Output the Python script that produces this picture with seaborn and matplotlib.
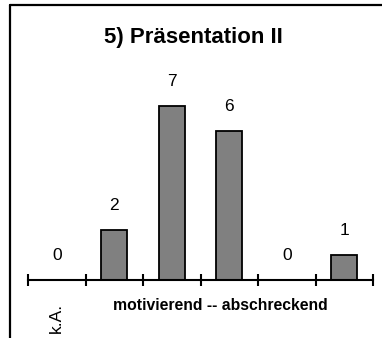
import matplotlib
matplotlib.use("Agg")
import matplotlib.pyplot as plt
from matplotlib.lines import Line2D
import seaborn as sns
import pandas as pd

# Antwortkategorien und Häufigkeiten
categories = ["k.A.", "1", "2", "3", "4", "5"]
counts = [0, 2, 7, 6, 0, 1]
title = "5) Präsentation II"
scale_label = "motivierend -- abschreckend"

sns.set_style("white")
plt.rcParams["font.family"] = ["Liberation Sans", "DejaVu Sans"]

df = pd.DataFrame({"cat": categories, "n": counts})

W, H = 382, 338
fig = plt.figure(figsize=(W / 100, H / 100), dpi=100)
fig.patch.set_facecolor("white")

# axes placed in pixel coordinates
x0, x1 = 28, 373
ybase, ytop = 280, 81
ax = fig.add_axes([x0 / W, (H - ybase) / H, (x1 - x0) / W, (ybase - ytop) / H])

sns.barplot(data=df, x="cat", y="n", order=categories, ax=ax,
            color="#808080", edgecolor="black", linewidth=1.3,
            width=0.45, saturation=1)

ax.set_xlim(-0.5, len(categories) - 0.5)
ax.set_ylim(0, 8)

for s in ["left", "right", "top"]:
    ax.spines[s].set_visible(False)
ax.spines["bottom"].set_linewidth(1.5)
ax.spines["bottom"].set_color("black")
ax.set_yticks([])
ax.set_xticks([i - 0.5 for i in range(len(categories) + 1)])
ax.set_xticklabels([])
ax.tick_params(axis="x", direction="inout", length=8, width=1.5, color="black", bottom=True)
ax.set_xlabel("")
ax.set_ylabel("")
ax.patch.set_alpha(0)

# value labels above each bar
for i, v in enumerate(counts):
    ax.annotate(str(v), xy=(i, v), xytext=(0, 17.5), textcoords="offset points",
                ha="center", va="center", fontsize=12.5, color="black")

# category text below the axis
ax.annotate("k.A.", xy=(0, 0), xytext=(-0.5, -27), textcoords="offset points",
            ha="center", va="center", rotation=90, fontsize=12.5, color="black")
fig.text(220 / W, 1 - 305 / H, scale_label, ha="center", va="center",
         fontsize=11.3, fontweight="bold", color="black")

fig.text(193 / W, 1 - 38 / H, title, ha="center", va="center",
         fontsize=16, fontweight="bold", color="black")

# frame around the chart (left and top edges)
fig.add_artist(Line2D([10 / W, 10 / W], [0, 1 - 5 / H], transform=fig.transFigure,
                      color="black", linewidth=1.6))
fig.add_artist(Line2D([10 / W, 1], [1 - 5 / H, 1 - 5 / H], transform=fig.transFigure,
                      color="black", linewidth=1.6))

fig.savefig("out.png", dpi=100)
